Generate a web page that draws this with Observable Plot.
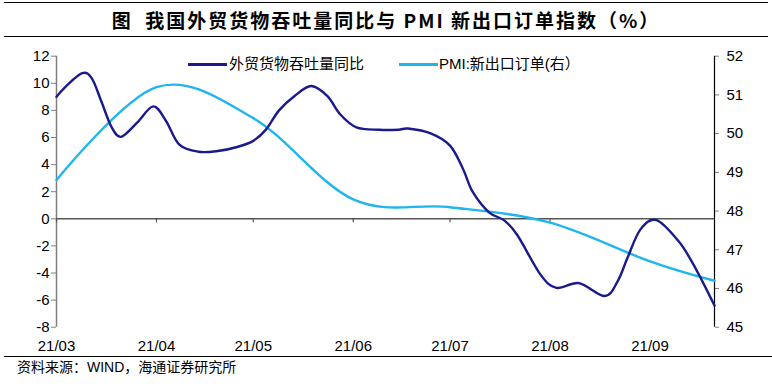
<!DOCTYPE html>
<html>
<head>
<meta charset="utf-8">
<script src="https://cdn.jsdelivr.net/npm/d3@7"></script>
<script src="https://cdn.jsdelivr.net/npm/@observablehq/plot@0.6"></script>
<style>
  html, body { margin: 0; padding: 0; background: #fff; }
  body { width: 772px; height: 388px; position: relative; overflow: hidden;
         font-family: "Liberation Sans", Arial, "Noto Sans CJK SC", sans-serif; }
  #title { position: absolute; left: 4px; top: 2px; width: 764px; height: 33px;
           border-top: 1.5px solid #000; border-bottom: 1.5px solid #000;
           text-align: center; line-height: 33px; font-size: 19px; font-weight: bold;
           font-family: "Noto Sans CJK SC", sans-serif; letter-spacing: 2px; color: #000; }
  #chart { position: absolute; left: 0; top: 40px; }
  #legend { position: absolute; top: 53px; left: 0; width: 772px; height: 22px;
            font-size: 15px; color: #000; font-family: "Liberation Sans", Arial, "Noto Sans CJK SC", sans-serif; }
  .lg { position: absolute; top: 0; height: 22px; line-height: 22px; white-space: nowrap; }
  .sw { position: absolute; height: 3px; top: 10px; }
  #caption { position: absolute; left: 4px; top: 356px; width: 764px;
             border-top: 1.5px solid #000; padding-left: 13px; padding-top: 1px;
             font-size: 14px; line-height: 18px; color: #000;
             font-family: "Liberation Sans", Arial, "Noto Sans CJK SC", sans-serif; }
</style>
</head>
<body>
<div id="title">图&nbsp;&nbsp;我国外贸货物吞吐量同比与 PMI 新出口订单指数（%）</div>
<div id="chart"></div>
<div id="legend"></div>
<div id="caption">资料来源：WIND，海通证券研究所</div>
<script>
// ---- data ----
const seriesNames = ["外贸货物吞吐量同比", "PMI:新出口订单(右）"];
const seriesColors = ["#1a1a8c", "#1fb5ee"];

const tradeDates = ["2021-03-01","2021-03-04","2021-03-09","2021-03-12","2021-03-15","2021-03-18","2021-03-21","2021-03-26","2021-03-31",
  "2021-04-04","2021-04-08","2021-04-14","2021-04-20","2021-04-26","2021-05-01","2021-05-05","2021-05-09","2021-05-14","2021-05-19",
  "2021-05-24","2021-05-28","2021-06-02","2021-06-09","2021-06-15","2021-06-18","2021-06-25","2021-07-01","2021-07-05","2021-07-08",
  "2021-07-13","2021-07-18","2021-07-22","2021-07-29","2021-08-03","2021-08-10","2021-08-18","2021-08-22","2021-08-25","2021-08-29",
  "2021-09-03","2021-09-10","2021-09-15","2021-09-21"];
const tradeValues = [9.0, 9.8, 10.75, 10.35, 8.6, 6.8, 6.05, 7.1, 8.3,
  7.2, 5.5, 4.95, 5.0, 5.3, 5.75, 6.6, 8.0, 9.1, 9.8,
  9.05, 7.7, 6.75, 6.57, 6.57, 6.66, 6.3, 5.4, 3.7, 2.0,
  0.5, -0.15, -1.25, -4.1, -5.1, -4.75, -5.7, -4.6, -2.9, -0.8,
  -0.1, -1.7, -3.6, -6.4];

const pmiDates = ["2021-03-01","2021-04-01","2021-05-01","2021-06-01","2021-07-01","2021-08-01","2021-09-01","2021-09-21"];
const pmiValues = [48.8, 51.2, 50.4, 48.3, 48.1, 47.7, 46.7, 46.2];

const leftTicks = [-8, -6, -4, -2, 0, 2, 4, 6, 8, 10, 12];
const rightTicks = [45, 46, 47, 48, 49, 50, 51, 52];
const monthTicks = ["2021-03-01","2021-04-01","2021-05-01","2021-06-01","2021-07-01","2021-08-01","2021-09-01"];
const xDomain = ["2021-03-01", "2021-09-21"];

// ---- scales mapping (right axis onto left) ----
const L0 = -8, L1 = 12, R0 = 45, R1 = 52;
const toLeft = p => L0 + (p - R0) * (L1 - L0) / (R1 - R0);
const toRight = v => R0 + (v - L0) * (R1 - R0) / (L1 - L0);
const parse = d3.utcParse("%Y-%m-%d");

const trade = tradeDates.map((d, i) => ({date: parse(d), value: tradeValues[i]}));
const pmi = pmiDates.map((d, i) => ({date: parse(d), value: toLeft(pmiValues[i])}));
const months = monthTicks.map(parse);
const xd = xDomain.map(parse);

const font = '"Liberation Sans", Arial, sans-serif';
const smooth = d3.curveCatmullRom.alpha(0);

const chart = Plot.plot({
  width: 772,
  height: 315,
  marginLeft: 56,
  marginRight: 58,
  marginTop: 15.7,
  marginBottom: 28.3,
  style: {fontFamily: font, fontSize: "15px", color: "#000", background: "transparent"},
  x: {type: "utc", domain: xd},
  y: {domain: [L0, L1]},
  marks: [
    Plot.axisY({anchor: "left", ticks: leftTicks, tickFormat: d => String(d), tickSize: 5, tickPadding: 2,
      stroke: "#808080", fill: "#000", label: null, fontSize: 15}),
    Plot.axisY({anchor: "right", ticks: rightTicks.map(toLeft), tickFormat: v => String(Math.round(toRight(v))),
      tickSize: 4, tickPadding: 8, stroke: "#808080", fill: "#000", label: null, fontSize: 15}),
    Plot.axisX({anchor: "bottom", ticks: months, tickFormat: d3.utcFormat("%y/%m"), tickSize: 0, tickPadding: 13,
      fill: "#000", label: null, fontSize: 15}),
    Plot.ruleX([xd[0]], {y1: L0, y2: L1, stroke: "#808080", strokeWidth: 1.5}),
    Plot.ruleX([xd[1]], {y1: L0, y2: L1, stroke: "#000", strokeWidth: 1.2}),
    Plot.ruleY([0], {stroke: "#555", strokeWidth: 1.5}),
    Plot.ruleX(months, {x: d => d, y1: 0, y2: -0.3, stroke: "#555", strokeWidth: 1.2}),
    Plot.line(pmi, {x: "date", y: "value", stroke: seriesColors[1], strokeWidth: 2.4, curve: smooth}),
    Plot.line(trade, {x: "date", y: "value", stroke: seriesColors[0], strokeWidth: 2.4, curve: smooth})
  ]
});
document.getElementById("chart").appendChild(chart);

// legend
const legend = document.getElementById("legend");
const lgPos = [{sw: 188, tx: 229}, {sw: 399, tx: 439}];
seriesNames.forEach((name, i) => {
  const sw = document.createElement("div");
  sw.className = "sw";
  sw.style.left = lgPos[i].sw + "px";
  sw.style.width = "39px";
  sw.style.background = seriesColors[i];
  legend.appendChild(sw);
  const t = document.createElement("div");
  t.className = "lg";
  t.style.left = lgPos[i].tx + "px";
  t.textContent = name;
  legend.appendChild(t);
});
</script>
</body>
</html>
